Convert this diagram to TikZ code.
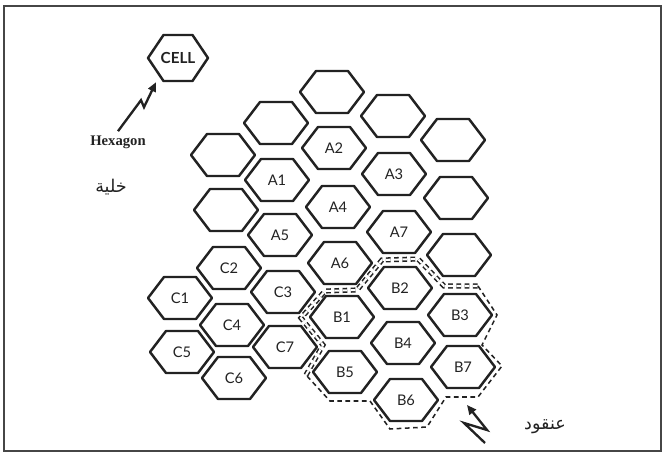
\documentclass[tikz,border=0pt]{standalone}
\usepackage{fontspec}
\setmainfont{Liberation Serif}
\newfontfamily\labelfont{Lato}
\newfontfamily\arabicfont[Script=Arabic]{DejaVu Sans}
\TeXXeTstate=1
\usetikzlibrary{arrows.meta}
\definecolor{inkgray}{RGB}{34,34,34}
\definecolor{framegray}{RGB}{70,70,70}

\tikzset{
  hexline/.style={draw=inkgray,line width=2.1pt,line join=round},
  hexlabel/.style={font=\labelfont\fontsize{12.5}{14}\selectfont,text=inkgray,inner sep=1pt},
  clusterline/.style={draw=inkgray,line width=1.3pt,dash pattern=on 4pt off 3pt},
  clusterdouble/.style={clusterline,double=white,double distance=1.8pt},
  bolt/.style={draw=inkgray,line width=2pt,line join=miter,-{Triangle[length=8pt,width=7pt]}},
  sidetext/.style={text=inkgray,inner sep=1pt}
}

% one cell of the grid: name, x, y, label
\newcommand{\hexcell}[4]{%
  \draw[hexline,shift={(#2,#3)}] (-32,0) -- (-16,-21) -- (16,-21) -- (32,0) -- (16,21) -- (-16,21) -- cycle;
  \node[hexlabel] (#1) at (#2,#3) {#4};}

\begin{document}
\begin{tikzpicture}[x=0.03cm,y=-0.03cm]
  \useasboundingbox (0,0) rectangle (664,455);
  \draw[framegray,line width=2pt] (4,6) rectangle (661,451);

  % the single cell
  \draw[hexline,shift={(178,58)}] (-30,0) -- (-14.5,-23) -- (14.5,-23) -- (30,0) -- (14.5,23) -- (-14.5,23) -- cycle;
  \node[hexlabel,font=\labelfont\bfseries\fontsize{13}{15}\selectfont] (cell) at (178,58) {CELL};
  \node[sidetext,font=\bfseries\fontsize{12.5}{14}\selectfont] (hexagon) at (118,142) {Hexagon};
  \node[sidetext,font=\arabicfont\fontsize{15}{18}\selectfont] (khaliya) at (111,187) {\beginR خلية\endR};
  \draw[bolt] (hexagon.north) ++(0,-3) -- ++(23,-31) -- ++(3,7) -- ++(12,-25);

  % cluster outline
  \draw[clusterdouble] (306,375) -- (323,345) -- (301,318) -- (325,291) -- (357,290) -- (382,260)
    -- (418,259) -- (444,286) -- (478,286);
  \draw[clusterline] (478,286) -- (497,315) -- (482,345) -- (502,366) -- (478,397) -- (446,397)
    -- (427,427) -- (390,429) -- (370,401) -- (330,401) -- (306,375);

  % empty cells
  \hexcell{e1}{332}{92}{}
  \hexcell{e2}{276}{123}{}
  \hexcell{e3}{223}{155}{}
  \hexcell{e4}{393}{116}{}
  \hexcell{e5}{453}{140}{}
  \hexcell{e6}{226}{210}{}
  \hexcell{e7}{456}{198}{}
  \hexcell{e8}{459}{255}{}

  % cluster A
  \hexcell{a1}{277}{180}{A1}
  \hexcell{a2}{334}{148}{A2}
  \hexcell{a3}{394}{174}{A3}
  \hexcell{a4}{338}{207}{A4}
  \hexcell{a5}{280}{235}{A5}
  \hexcell{a6}{340}{263}{A6}
  \hexcell{a7}{399}{232}{A7}

  % cluster B
  \hexcell{b1}{342}{317}{B1}
  \hexcell{b2}{400}{288}{B2}
  \hexcell{b3}{460}{315}{B3}
  \hexcell{b4}{403}{343}{B4}
  \hexcell{b5}{345}{372}{B5}
  \hexcell{b6}{406}{400}{B6}
  \hexcell{b7}{463}{367}{B7}

  % cluster C
  \hexcell{c1}{180}{298}{C1}
  \hexcell{c2}{229}{268}{C2}
  \hexcell{c3}{283}{292}{C3}
  \hexcell{c4}{232}{325}{C4}
  \hexcell{c5}{182}{352}{C5}
  \hexcell{c6}{234}{378}{C6}
  \hexcell{c7}{285}{347}{C7}

  \node[sidetext,font=\arabicfont\fontsize{15}{18}\selectfont] (anqud) at (545,427) {\beginR عنقود\endR};
  \coordinate (boltfoot) at (485,443);
  \draw[bolt] (boltfoot) -- ++(-21,-20) -- ++(23,7) -- ++(-20,-25);
\end{tikzpicture}
\end{document}
